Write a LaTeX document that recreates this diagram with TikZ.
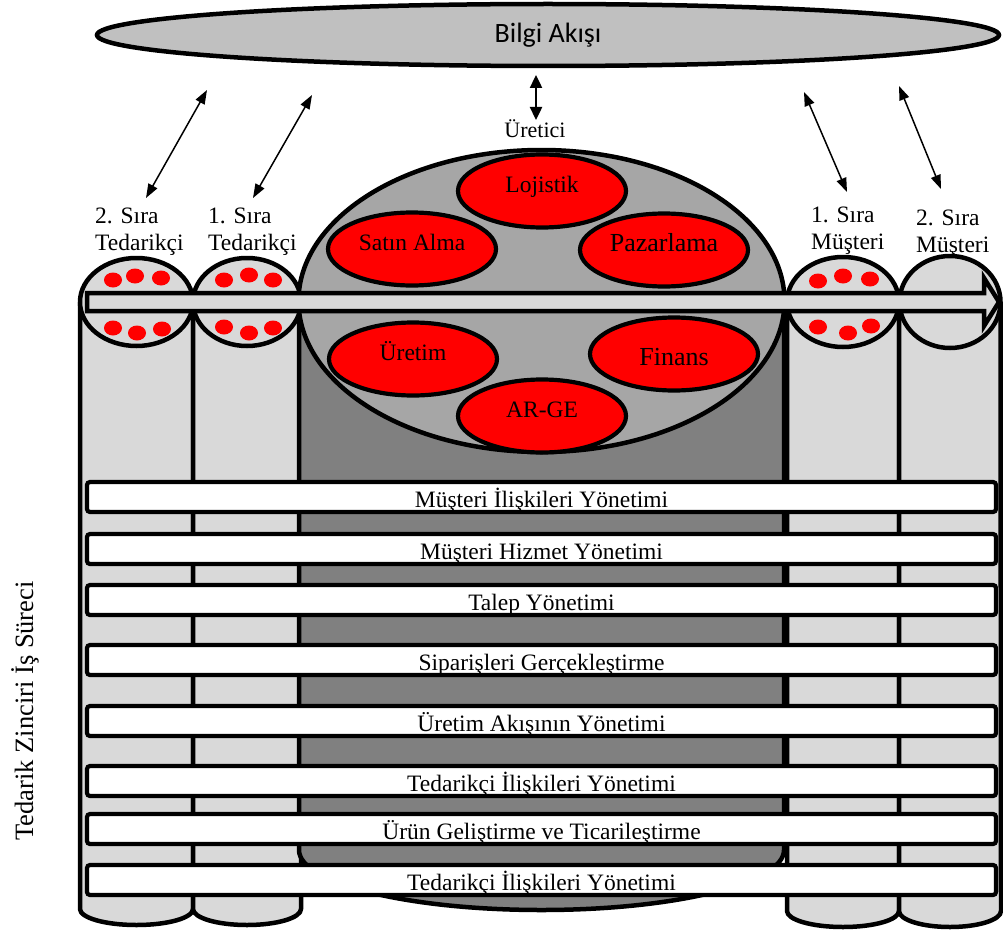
\documentclass[tikz,border=0pt]{standalone}
\usepackage{fontspec}
\setmainfont{Liberation Serif}
\newfontfamily\calfont{Carlito}
\usetikzlibrary{shapes.geometric,arrows.meta}
\definecolor{lightgr}{HTML}{D9D9D9}
\definecolor{midgr}{HTML}{A6A6A6}
\definecolor{darkgr}{HTML}{808080}
\definecolor{topgr}{HTML}{C0C0C0}
\definecolor{dotred}{HTML}{FF0000}

\begin{document}
\begin{tikzpicture}[x=1pt,y=1pt,yscale=-1,
  outline/.style={draw=black,line width=4.5pt,line join=round},
  column/.style={outline,fill=lightgr},
  unit/.style={ellipse,draw=black,line width=4.2pt,fill=dotred,minimum width=168pt,
    minimum height=73pt,inner sep=0pt,text height=10pt,text depth=8pt,
    font=\fontsize{23.5}{28}\selectfont},
  process/.style={draw=black,line width=4.2pt,fill=white,rounded corners=3pt,
    minimum width=909pt,minimum height=30pt,inner sep=0pt,text height=20pt,text depth=0pt,
    font=\fontsize{23.5}{28}\selectfont},
  tier/.style={anchor=base west,inner sep=0pt,font=\fontsize{23.5}{27}\selectfont},
  link/.style={line width=1.5pt,{Triangle[length=14pt,width=10pt]}-{Triangle[length=14pt,width=10pt]}},
]
\useasboundingbox (0,0) rectangle (1003,931);

% column bodies
\draw[column] (80,302) -- (80,909) arc[start angle=180,end angle=0,x radius=56.5,y radius=16] -- (193,302);
\draw[column] (193,302) -- (193,909) arc[start angle=180,end angle=0,x radius=54,y radius=16] -- (301,302);
\draw[column] (787,302) -- (787,911) arc[start angle=180,end angle=0,x radius=56,y radius=16] -- (899,302);
\draw[column] (899,302) -- (899,911) arc[start angle=180,end angle=0,x radius=51,y radius=16] -- (1000.5,302);
\draw[outline,fill=darkgr] (299,301) -- (299,850) arc[start angle=180,end angle=0,x radius=242.5,y radius=60] -- (784,301);

% column tops
\draw[column] (136.5,302) ellipse [x radius=56.5, y radius=44];
\draw[column] (247,302) ellipse [x radius=54, y radius=44];
\draw[column] (843,302) ellipse [x radius=56, y radius=45];
\draw[column] (950,302) ellipse [x radius=50.5, y radius=46];
\draw[outline,fill=midgr] (541.5,301) ellipse [x radius=243, y radius=151];

% departments of the manufacturer
\node[unit] (lojistik) at (542,191) {Lojistik};
\node[unit] (satin) at (412,249) {Satın Alma};
\node[unit,font=\fontsize{26}{30}\selectfont] (pazar) at (664,250) {Pazarlama};
\node[unit] (uretim) at (413,359) {Üretim};
\node[unit,font=\fontsize{26}{30}\selectfont,text height=24pt,text depth=2pt] (finans) at (674,354) {Finans};
\node[unit] (arge) at (542,416) {AR-GE};

% members on the side columns
\foreach \x/\y in {113/280,135/276,161/278,113/328,137/333,162/329,
                   224/280,249/275,273/280,224/327,249/333,273/328,
                   818/281,843/276,870/279,818/327,848/333,871/326}
  \fill[dotred] (\x,\y) ellipse [x radius=9, y radius=7.5];

% material flow
\draw[outline,fill=lightgr,line join=miter] (87,293) -- (984,293) -- (984,278) -- (999,302)
  -- (984,326) -- (984,311) -- (87,311) -- cycle;

% business processes
\node[process] (p1) at (541.5,497) {Müşteri İlişkileri Yönetimi};
\node[process] (p2) at (541.5,549) {Müşteri Hizmet Yönetimi};
\node[process] (p3) at (541.5,600) {Talep Yönetimi};
\node[process] (p4) at (541.5,660) {Siparişleri Gerçekleştirme};
\node[process] (p5) at (541.5,721) {Üretim Akışının Yönetimi};
\node[process] (p6) at (541.5,781) {Tedarikçi İlişkileri Yönetimi};
\node[process] (p7) at (541.5,829) {Ürün Geliştirme ve Ticarileştirme};
\node[process] (p8) at (541.5,880) {Tedarikçi İlişkileri Yönetimi};

\node[rotate=90,anchor=base,inner sep=0pt,font=\fontsize{26.5}{30}\selectfont] (side) at (33,711)
  {Tedarik Zinciri İş Süreci};

% tier labels
\node[tier] (t2a) at (95,223) {2. Sıra};
\node[tier] (t2b) at (95,250) {Tedarikçi};
\node[tier] (t1a) at (208,223) {1. Sıra};
\node[tier] (t1b) at (208,250) {Tedarikçi};
\node[tier] (m1a) at (811,222) {1. Sıra};
\node[tier] (m1b) at (811,249) {Müşteri};
\node[tier] (m2a) at (916,225) {2. Sıra};
\node[tier] (m2b) at (916,252) {Müşteri};
\node[anchor=base,inner sep=0pt,font=\fontsize{22}{26}\selectfont] (uretici) at (535,137) {Üretici};

% information flow
\node[ellipse,draw=black,line width=4.5pt,fill=topgr,minimum width=902pt,minimum height=62pt,
  inner sep=0pt,font=\calfont\fontsize{28}{32}\selectfont] (bilgi) at (548,35) {Bilgi Akışı};

\coordinate (s2top) at (207,90);  \coordinate (s2bot) at (146,198);
\coordinate (s1top) at (312,95);  \coordinate (s1bot) at (253,198);
\coordinate (mtop)  at (536,75);  \coordinate (mbot)  at (536,120);
\coordinate (c1top) at (804,92);  \coordinate (c1bot) at (847,192);
\coordinate (c2top) at (899,86);  \coordinate (c2bot) at (941,189);
\draw[link] (s2top) -- (s2bot);
\draw[link] (s1top) -- (s1bot);
\draw[line width=2.4pt,{Triangle[length=13pt,width=12pt]}-{Triangle[length=13pt,width=12pt]}] (mtop) -- (mbot);
\draw[link] (c1top) -- (c1bot);
\draw[link] (c2top) -- (c2bot);
\end{tikzpicture}
\end{document}
